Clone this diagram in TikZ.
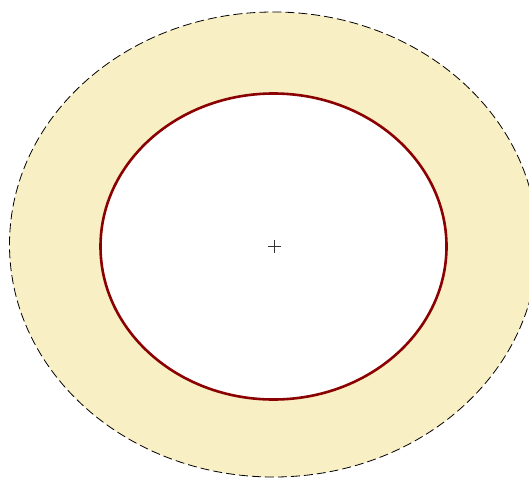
\documentclass[tikz,border=0pt]{standalone}
\begin{document}
\begin{tikzpicture}[x=1pt,y=-1pt,
  outerring/.style={draw=black, line width=0.8pt, dash pattern=on 9pt off 4pt, fill=yellowfill},
  innerring/.style={draw=darkred, line width=2.6pt, fill=white},
  centermark/.style={draw=black!80, line width=0.8pt}]
\definecolor{yellowfill}{RGB}{248,239,197}
\definecolor{darkred}{RGB}{139,0,0}
\useasboundingbox (0,0) rectangle (529,479);
\clip (0,0) rectangle (529,479);
\path[outerring] (273.5,244.5) ellipse [x radius=264, y radius=232.5];
\path[innerring] (273.5,246.5) ellipse [x radius=173, y radius=153];
\coordinate (c) at (274,246);
\draw[centermark] ([xshift=-6.5pt]c) -- ([xshift=6.5pt]c);
\draw[centermark] ([yshift=-6.5pt]c) -- ([yshift=6.5pt]c);
\end{tikzpicture}
\end{document}
